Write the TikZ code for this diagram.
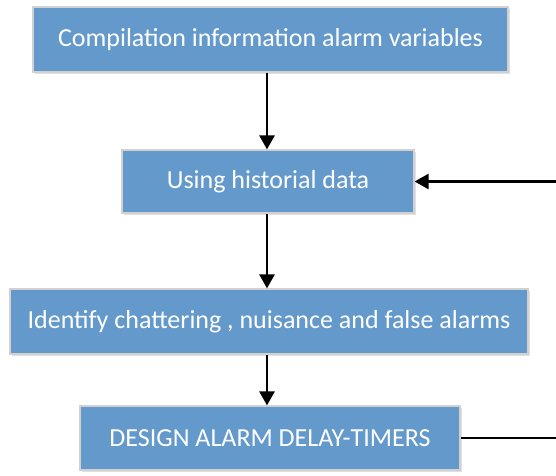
\documentclass[tikz,border=0pt]{standalone}
\usepackage{fontspec}
\setmainfont{Carlito}
\usetikzlibrary{arrows.meta,shadows}
\begin{document}
\begin{tikzpicture}[x=1pt,y=1pt,
  stepbox/.style={draw=black!18, line width=1.2pt, fill=boxblue, text=white,
    font=\fontsize{26}{30}\selectfont, inner sep=0pt,
    drop shadow={shadow xshift=2pt, shadow yshift=-2pt, opacity=0.12, fill=black}},
  conn/.style={line width=2.6pt, -{Triangle[length=14pt,width=15pt]}}]
\definecolor{boxblue}{HTML}{6499CC}
\useasboundingbox (0,0) rectangle (556,-475);
\node[stepbox, minimum width=475pt, minimum height=65pt] (a) at (270.5,-39.5) {Compilation information alarm variables};
\node[stepbox, minimum width=292pt, minimum height=63pt] (b) at (268,-181.5) {Using historial data};
\node[stepbox, minimum width=518pt, minimum height=65pt] (c) at (269,-321.5) {Identify chattering , nuisance and false alarms};
\node[stepbox, minimum width=380pt, minimum height=64pt] (d) at (270,-438) {DESIGN ALARM DELAY-TIMERS};
\coordinate (fb) at (565,-438);
\draw[conn] (a.south -| 267,0) -- (b.north -| 267,0);
\draw[conn] (b.south -| 267,0) -- (c.north -| 267,0);
\draw[conn] (c.south -| 267,0) -- (d.north -| 267,0);
\draw[conn] (d.east) -- (fb) |- (b.east);
\end{tikzpicture}
\end{document}
